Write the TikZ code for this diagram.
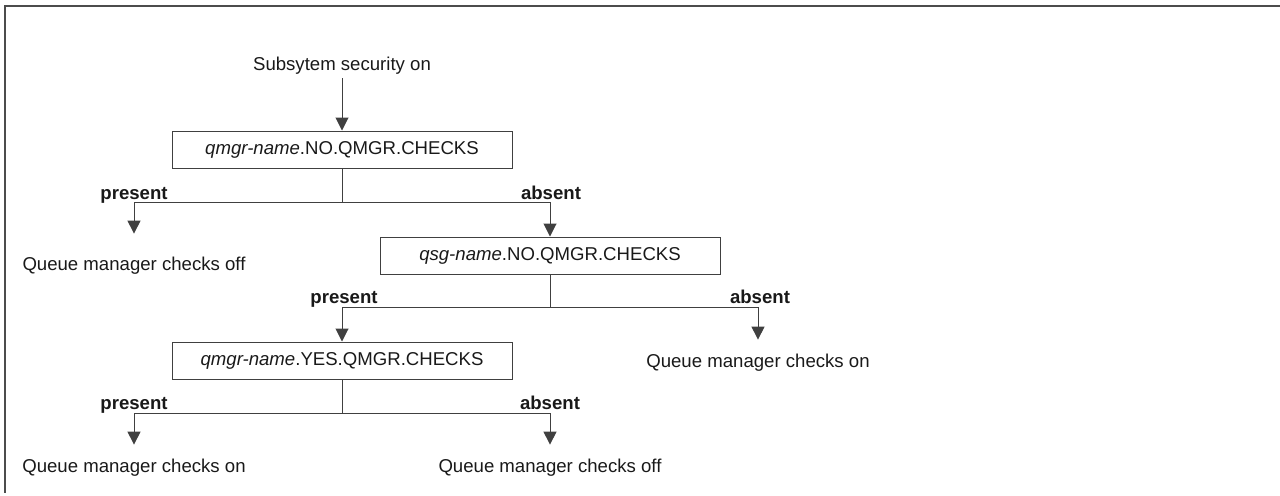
\documentclass[tikz,border=0pt]{standalone}
\usepackage{fontspec}
\setmainfont{Liberation Sans}
\usetikzlibrary{arrows.meta}
\begin{document}
\begin{tikzpicture}[x=0.5pt,y=-0.5pt,
  every node/.style={font=\fontsize{9.3pt}{11pt}\selectfont, text=black!90},
  txt/.style={inner sep=0pt, text height=7pt, text depth=2pt},
  lbl/.style={inner sep=0pt, text height=7pt, text depth=2pt, font=\fontsize{9.3pt}{11pt}\selectfont\bfseries},
  box/.style={draw=black!75, line width=0.5pt, minimum width=170pt, minimum height=18.5pt, inner sep=0pt, text height=7pt, text depth=2pt},
  conn/.style={draw=black!75, line width=0.5pt},
  arr/.style={conn, -{Triangle[width=6.5pt,length=6.5pt]}},
  frame/.style={draw=black!70, line width=1pt}
]
\useasboundingbox (0,0) rectangle (1280,495);
\draw[frame] (1280,5.5) -- (5,5.5) -- (5,493);

\node[txt] (sub) at (342,65) {Subsytem security on};
\node[box] (b1) at (342,149.5) {\textit{qmgr-name}.NO.QMGR.CHECKS};
\node[box] (b2) at (550,255.5) {\textit{qsg-name}.NO.QMGR.CHECKS};
\node[box] (b3) at (342,360.5) {\textit{qmgr-name}.YES.QMGR.CHECKS};

\node[txt] (o1) at (134,265) {Queue manager checks off};
\node[txt] (o2) at (758,362) {Queue manager checks on};
\node[txt] (o3) at (134,467) {Queue manager checks on};
\node[txt] (o4) at (550,467) {Queue manager checks off};

\node[lbl] (l1p) at (134,194) {present};
\node[lbl] (l1a) at (551,194) {absent};
\node[lbl] (l2p) at (344,298) {present};
\node[lbl] (l2a) at (760,298) {absent};
\node[lbl] (l3p) at (134,404) {present};
\node[lbl] (l3a) at (550,404) {absent};

\coordinate (j1) at (342,202);
\coordinate (j2) at (550,307);
\coordinate (j3) at (342,413);

\draw[arr, shorten <=2pt] (sub.south) -- (b1.north);
\draw[conn] (b1.south) -- (j1);
\draw[arr, shorten >=11pt] (j1) -| (o1.north);
\draw[arr] (j1) -| (b2.north);

\draw[conn] (b2.south) -- (j2);
\draw[arr] (j2) -| (b3.north);
\draw[arr, shorten >=6.5pt] (j2) -| (o2.north);

\draw[conn] (b3.south) -- (j3);
\draw[arr, shorten >=6.5pt] (j3) -| (o3.north);
\draw[arr, shorten >=6.5pt] (j3) -| (o4.north);
\end{tikzpicture}
\end{document}
